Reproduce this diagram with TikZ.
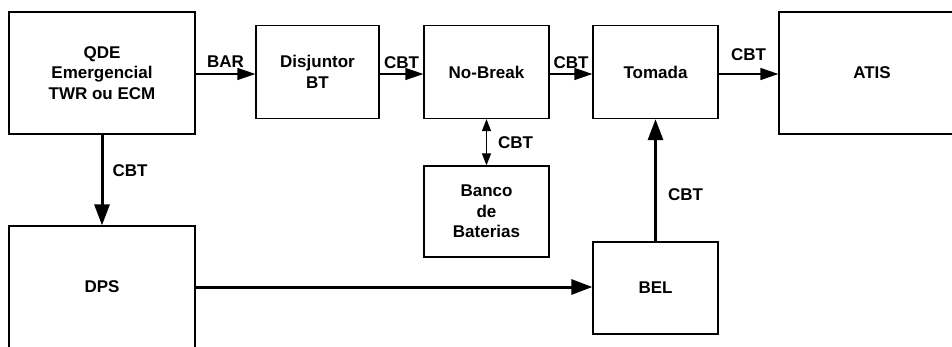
\documentclass[tikz,border=0pt]{standalone}
\usepackage{fontspec}
\setmainfont{Liberation Sans}
\usetikzlibrary{arrows.meta}
\tikzset{
  % caixas
  blk/.style      = {draw, line width=1.3pt, align=center, inner sep=0pt,
                     font=\bfseries\fontsize{17}{20.5}\selectfont},
  % setas finas e grossas
  thinarr/.style  = {line width=1.3pt, -{Triangle[length=18pt,width=12pt]}},
  dblarr/.style   = {line width=1.3pt, {Triangle[length=12pt,width=9pt]}-{Triangle[length=12pt,width=9pt]}},
  thickarr/.style = {line width=3pt, -{Triangle[length=21pt,width=15pt]}},
  % rotulos
  lbl/.style      = {font=\bfseries\fontsize{17}{18}\selectfont, inner sep=1pt},
}
\begin{document}
\begin{tikzpicture}[x=1pt,y=-1pt]
  \useasboundingbox (0,0) rectangle (952,347);
  \clip (0,0) rectangle (952,347);
  % linha superior
  \node[blk, minimum width=186, minimum height=122] (qde) at (102,73) {QDE\\Emergencial\\TWR ou ECM};
  \node[blk, minimum width=123, minimum height=93] (disj) at (317.5,72) {Disjuntor\\BT};
  \node[blk, minimum width=125, minimum height=93] (nobreak) at (486.5,72) {No-Break};
  \node[blk, minimum width=125, minimum height=93] (tomada) at (655.5,72) {Tomada};
  \node[blk, minimum width=186, minimum height=122] (atis) at (872,73) {ATIS};
  % linha inferior
  \node[blk, minimum width=125, minimum height=91] (banco) at (486.5,211.5) {Banco\\de\\Baterias};
  \node[blk, minimum width=186, minimum height=122] (dps) at (102,287) {DPS};
  \node[blk, minimum width=125, minimum height=92] (bel) at (655.5,288) {BEL};
  % conexoes
  \draw[thinarr] (qde.east |- 0,74) -- (disj.west |- 0,74) node[midway, above=5pt, lbl] {BAR};
  \draw[thinarr] (disj.east |- 0,74) -- (nobreak.west |- 0,74) node[midway, above=4pt, lbl] {CBT};
  \draw[thinarr] (nobreak.east |- 0,74) -- (tomada.west |- 0,74) node[midway, above=4pt, lbl] {CBT};
  \draw[thinarr] (tomada.east |- 0,74) -- (atis.west |- 0,74) node[midway, above=12pt, lbl] {CBT};
  \draw[dblarr] (nobreak.south) -- (banco.north) node[midway, right=10pt, lbl] {CBT};
  \draw[thickarr] (qde.south) -- (dps.north) node[pos=0.4, right=8pt, lbl] {CBT};
  \draw[thickarr] (bel.north) -- (tomada.south) node[pos=0.38, right=10pt, lbl] {CBT};
  \draw[thickarr] (dps.east) -- (bel.west |- dps.east);
\end{tikzpicture}
\end{document}
